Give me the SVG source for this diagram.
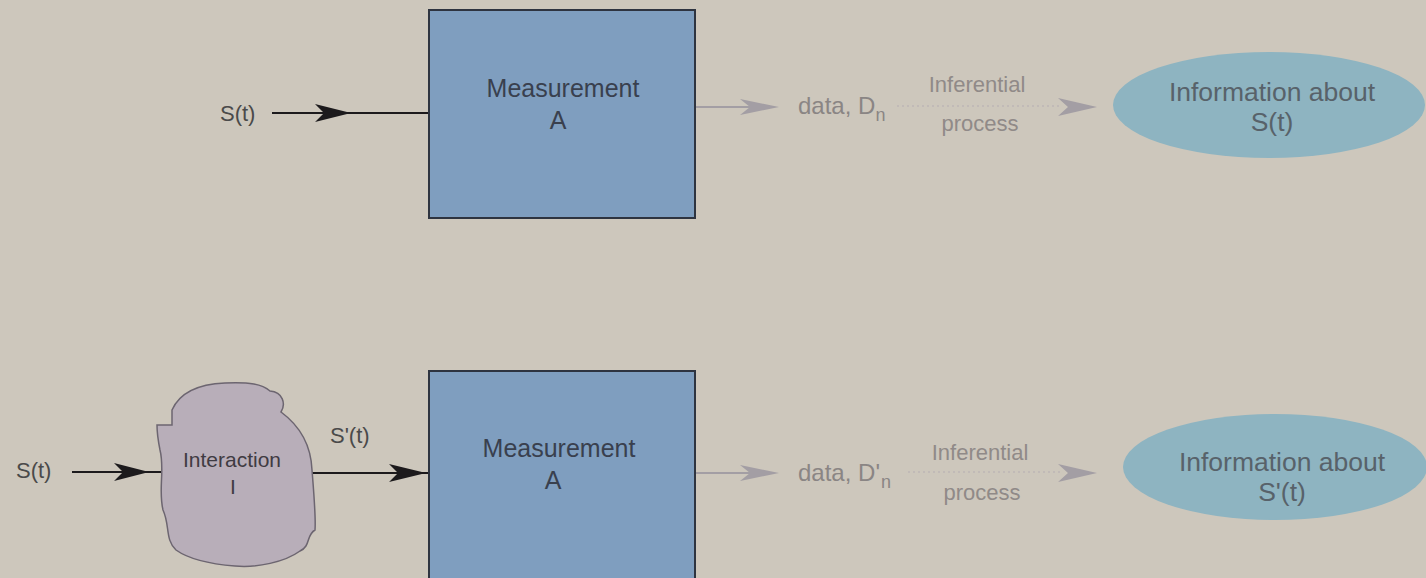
<svg xmlns="http://www.w3.org/2000/svg" width="1426" height="578" viewBox="0 0 1426 578">
<style>
  text { font-family: "Liberation Sans", Arial, sans-serif; }
  .box { fill: #7f9ebf; stroke: #2e3440; stroke-width: 2; }
  .ell { fill: #8eb4c1; stroke: none; }
  .cloud { fill: #b8aeb9; stroke: #6c6570; stroke-width: 1.5; }
  .lbl { font-size: 22px; fill: #4a4a4a; }
  .mtxt { font-size: 25px; fill: #39404e; text-anchor: middle; }
  .data { font-size: 24px; fill: #8a8584; }
  .inf { font-size: 22px; fill: #908a88; text-anchor: middle; }
  .info { font-size: 26.5px; fill: #58626a; text-anchor: middle; }
  .itxt { font-size: 21px; fill: #3f3b42; text-anchor: middle; }
  .blk { stroke: #1c1a1c; stroke-width: 2; fill: none; }
  .gry { stroke: #a39ea4; stroke-width: 2; fill: none; }
  .dot { stroke: #bdb6b5; stroke-width: 1.5; stroke-dasharray: 2 3; fill: none; }
  .bh { fill: #1c1a1c; }
  .gh { fill: #a39ea4; }
</style>
<rect x="0" y="0" width="1426" height="578" fill="#cdc7bc"/>

<g id="connectors">
  <!-- top row -->
  <line class="blk" x1="272" y1="113" x2="429" y2="113"/>
  <path class="bh" d="M351,113 L315,104 L324,113 L315,122 Z"/>
  <line class="gry" x1="695" y1="107" x2="760" y2="107"/>
  <path class="gh" d="M779,107 L740,99 L750,107 L740,115 Z"/>
  <line class="dot" x1="897" y1="106" x2="1060" y2="106"/>
  <path class="gh" d="M1097,107 L1058,98 L1068,107 L1058,116 Z"/>
  <!-- bottom row -->
  <line class="blk" x1="72" y1="472" x2="162" y2="472"/>
  <path class="bh" d="M149,472 L114,463 L123,472 L114,481 Z"/>
  <line class="blk" x1="312" y1="473" x2="429" y2="473"/>
  <path class="bh" d="M426,473 L389,464 L398,473 L389,482 Z"/>
  <line class="gry" x1="695" y1="473" x2="760" y2="473"/>
  <path class="gh" d="M779,473 L740,465 L750,473 L740,481 Z"/>
  <line class="dot" x1="908" y1="472" x2="1060" y2="472"/>
  <path class="gh" d="M1097,473 L1058,464 L1068,473 L1058,482 Z"/>
</g>

<g id="s-top">
  <text class="lbl" x="220" y="121">S(t)</text>
</g>

<g id="measurement-top">
  <rect class="box" x="429" y="10" width="266" height="208"/>
  <text class="mtxt" x="563" y="97">Measurement</text>
  <text class="mtxt" x="558" y="129">A</text>
</g>

<g id="data-top">
  <text class="data" x="798" y="114">data, D<tspan font-size="18" dy="7">n</tspan></text>
</g>

<g id="inferential-top">
  <text class="inf" x="977" y="92">Inferential</text>
  <text class="inf" x="980" y="131">process</text>
</g>

<g id="info-top">
  <ellipse class="ell" cx="1269" cy="105" rx="156" ry="53"/>
  <text class="info" x="1272" y="101">Information about</text>
  <text class="info" x="1272" y="131">S(t)</text>
</g>

<g id="s-bottom">
  <text class="lbl" x="16" y="478">S(t)</text>
</g>

<g id="interaction">
  <path class="cloud" d="M172,410 C180,392 200,384 225,383 C250,382 262,384 270,391 C283,392 286,404 281,412 C300,426 311,446 312,470 C314,495 316,518 315,530 C306,535 311,546 300,551 C285,562 257,568 235,566 C210,564 190,560 176,550 C165,540 170,525 163,510 C158,490 165,470 160,450 C158,440 157,432 157,425 L172,425 Z"/>
  <text class="itxt" x="232" y="467">Interaction</text>
  <text class="itxt" x="233" y="494">I</text>
</g>

<g id="s-prime">
  <text class="lbl" x="330" y="443">S'(t)</text>
</g>

<g id="measurement-bottom">
  <rect class="box" x="429" y="371" width="266" height="212"/>
  <text class="mtxt" x="559" y="457">Measurement</text>
  <text class="mtxt" x="553" y="489">A</text>
</g>

<g id="data-bottom">
  <text class="data" x="798" y="481">data, D'<tspan font-size="18" dx="1" dy="7">n</tspan></text>
</g>

<g id="inferential-bottom">
  <text class="inf" x="980" y="460">Inferential</text>
  <text class="inf" x="982" y="500">process</text>
</g>

<g id="info-bottom">
  <ellipse class="ell" cx="1275" cy="467" rx="152" ry="53"/>
  <text class="info" x="1282" y="471">Information about</text>
  <text class="info" x="1282" y="501">S'(t)</text>
</g>
</svg>
